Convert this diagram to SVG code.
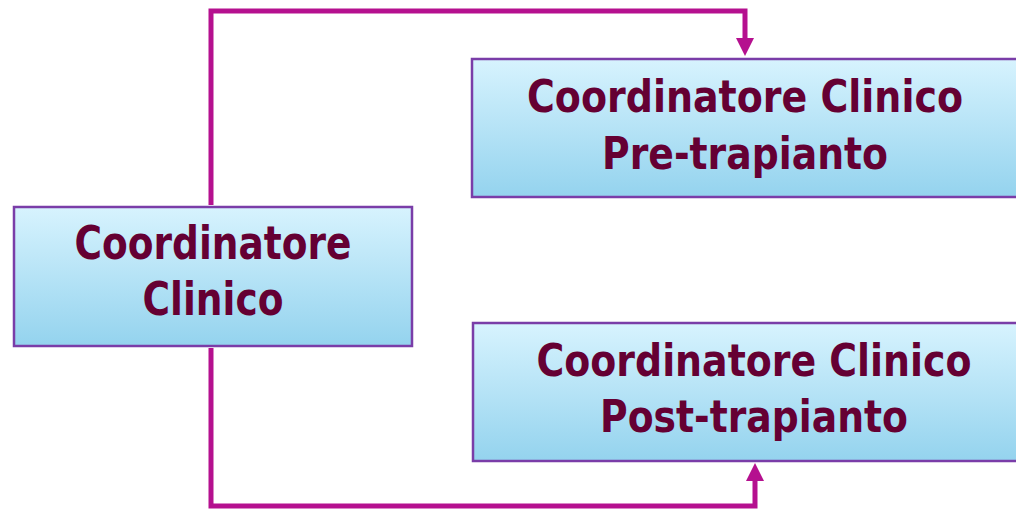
<svg xmlns="http://www.w3.org/2000/svg" width="1016" height="509" viewBox="0 0 1016 509">
<defs>
<linearGradient id="g" x1="0" y1="0" x2="0" y2="1">
<stop offset="0" stop-color="#D7F3FE"/>
<stop offset="1" stop-color="#94D3EE"/>
</linearGradient>
<style>
.box{fill:url(#g);stroke:#7A3DA8;stroke-width:2.5}
.t{font-family:"DejaVu Sans",Verdana,sans-serif;font-weight:bold;fill:#650033;text-anchor:middle}
.c{fill:none;stroke:#B5108F;stroke-width:5}
.ah{fill:#B5108F}
</style>
</defs>
<g id="connectors">
<path class="c" d="M211,205 V11 H745 V40"/>
<polygon class="ah" points="736,38 754,38 745,56"/>
<path class="c" d="M211,348 V506 H755 V479"/>
<polygon class="ah" points="746,481 764,481 755,463"/>
</g>
<g id="n1">
<rect class="box" x="14" y="207" width="398" height="139"/>
<text class="t" x="213" y="259" font-size="47" textLength="277" lengthAdjust="spacingAndGlyphs">Coordinatore</text>
<text class="t" x="213" y="315" font-size="47" textLength="141" lengthAdjust="spacingAndGlyphs">Clinico</text>
</g>
<g id="n2">
<rect class="box" x="472" y="59" width="550" height="138"/>
<text class="t" x="745" y="112" font-size="45" textLength="436" lengthAdjust="spacingAndGlyphs">Coordinatore Clinico</text>
<text class="t" x="745" y="169" font-size="45" textLength="286" lengthAdjust="spacingAndGlyphs">Pre-trapianto</text>
</g>
<g id="n3">
<rect class="box" x="473" y="323" width="550" height="138"/>
<text class="t" x="754" y="376" font-size="45" textLength="435" lengthAdjust="spacingAndGlyphs">Coordinatore Clinico</text>
<text class="t" x="754" y="432" font-size="45" textLength="308" lengthAdjust="spacingAndGlyphs">Post-trapianto</text>
</g>
</svg>
